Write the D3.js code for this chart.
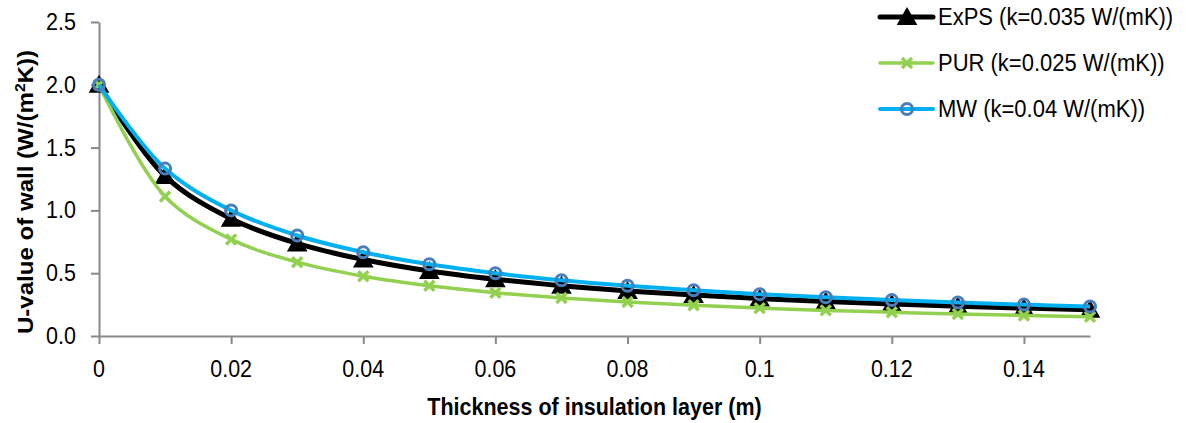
<!DOCTYPE html>
<html>
<head>
<meta charset="utf-8">
<script src="https://cdn.jsdelivr.net/npm/d3@7"></script>
<style>
  html, body { margin: 0; padding: 0; background: #fff; }
  svg { display: block; font-family: "Liberation Sans", Arial, sans-serif; }
</style>
</head>
<body>
<svg id="chart" width="1186" height="423"></svg>
<script>
// ---- data ----
const thickness = [0, 0.01, 0.02, 0.03, 0.04, 0.05, 0.06, 0.07, 0.08, 0.09, 0.10, 0.11, 0.12, 0.13, 0.14, 0.15];
const expsValues = [2.00, 1.273, 0.933, 0.737, 0.609, 0.518, 0.452, 0.400, 0.359, 0.326, 0.298, 0.275, 0.255, 0.237, 0.222, 0.209];
const purValues  = [2.00, 1.111, 0.769, 0.588, 0.476, 0.400, 0.345, 0.303, 0.270, 0.244, 0.222, 0.204, 0.189, 0.175, 0.164, 0.154];
const mwValues   = [2.00, 1.333, 1.000, 0.800, 0.667, 0.571, 0.500, 0.444, 0.400, 0.364, 0.333, 0.308, 0.286, 0.267, 0.250, 0.235];
const seriesNames = ["ExPS (k=0.035 W/(mK))", "PUR (k=0.025 W/(mK))", "MW (k=0.04 W/(mK))"];
const xTickValues = [0, 0.02, 0.04, 0.06, 0.08, 0.10, 0.12, 0.14];
const xTickLabels = ["0", "0.02", "0.04", "0.06", "0.08", "0.1", "0.12", "0.14"];
const yTickValues = [0, 0.5, 1.0, 1.5, 2.0, 2.5];
const yTickLabels = ["0.0", "0.5", "1.0", "1.5", "2.0", "2.5"];
const xTitle = "Thickness of insulation layer (m)";

// ---- layout ----
const svg = d3.select("#chart");
const x = d3.scaleLinear().domain([0, 0.15]).range([99, 1090]);
const y = d3.scaleLinear().domain([0, 2.5]).range([336, 22]);
const axisColor = "#898989";
const VS = 1.12; // vertical stretch of glyphs in the reference

// axes
const gx = svg.append("g").attr("transform", `translate(0,${y(0)})`)
  .call(d3.axisBottom(x).tickValues(xTickValues).tickSize(8).tickSizeOuter(0).tickFormat(""));
const gy = svg.append("g").attr("transform", `translate(${x(0)},0)`)
  .call(d3.axisLeft(y).tickValues(yTickValues).tickSize(8).tickSizeOuter(0).tickFormat(""));
[gx, gy].forEach(g => {
  g.select(".domain").attr("stroke", axisColor).attr("stroke-width", 2);
  g.selectAll(".tick line").attr("stroke", axisColor).attr("stroke-width", 2);
});

// tick labels
xTickValues.forEach((v, i) => {
  svg.append("text")
    .attr("transform", `translate(${x(v)},377) scale(1,${VS})`)
    .attr("text-anchor", "middle")
    .attr("font-size", 21.5)
    .attr("fill", "#000")
    .text(xTickLabels[i]);
});
yTickValues.forEach((v, i) => {
  svg.append("text")
    .attr("transform", `translate(76,${y(v) + 8}) scale(1,${VS})`)
    .attr("text-anchor", "end")
    .attr("font-size", 21.5)
    .attr("fill", "#000")
    .text(yTickLabels[i]);
});

// axis titles
svg.append("text")
  .attr("transform", `translate(${(x(0) + x(0.15)) / 2},415) scale(1,${VS})`)
  .attr("text-anchor", "middle")
  .attr("font-size", 21.5)
  .attr("font-weight", "bold")
  .text(xTitle);

const yt = svg.append("text")
  .attr("transform", `translate(33,${192}) rotate(-90) scale(${VS},1)`)
  .attr("text-anchor", "middle")
  .attr("font-size", 21.5)
  .attr("font-weight", "bold");
yt.append("tspan").text("U-value of wall (W/(m");
yt.append("tspan").attr("baseline-shift", "super").attr("font-size", 14).text("2");
yt.append("tspan").text("K))");

// ---- series ----
const series = [
  { name: seriesNames[0], values: expsValues, color: "#000000", width: 5, marker: "triangle" },
  { name: seriesNames[1], values: purValues,  color: "#92D050", width: 3.5, marker: "cross" },
  { name: seriesNames[2], values: mwValues,   color: "#00B0F0", width: 4, marker: "circle" }
];

const line = d3.line()
  .x((d, i) => x(thickness[i]))
  .y(d => y(d))
  .curve(d3.curveCatmullRom.alpha(0.5));

function drawMarker(g, cx, cy, s) {
  if (s.marker === "triangle") {
    g.append("path")
      .attr("d", d3.symbol().type(d3.symbolTriangle).size(185)())
      .attr("transform", `translate(${cx},${cy + 2})`)
      .attr("fill", "#000");
  } else if (s.marker === "cross") {
    const r = 5;
    g.append("path")
      .attr("d", `M${cx - r},${cy - r}L${cx + r},${cy + r}M${cx - r},${cy + r}L${cx + r},${cy - r}`)
      .attr("stroke", "#92D050").attr("stroke-width", 3.5).attr("fill", "none");
  } else {
    g.append("circle")
      .attr("cx", cx).attr("cy", cy).attr("r", 5.5)
      .attr("fill", "none")
      .attr("stroke", "#4A7EBB").attr("stroke-width", 3);
  }
}

series.forEach(s => {
  const g = svg.append("g");
  g.append("path")
    .datum(s.values)
    .attr("d", line)
    .attr("fill", "none")
    .attr("stroke", s.color)
    .attr("stroke-width", s.width)
    .attr("stroke-linejoin", "round");
  s.values.forEach((v, i) => drawMarker(g, x(thickness[i]), y(v), s));
});

// ---- legend ----
const legendRows = [17, 63, 109];
series.forEach((s, i) => {
  const g = svg.append("g");
  const ly = legendRows[i];
  g.append("line")
    .attr("x1", 880).attr("x2", 933).attr("y1", ly).attr("y2", ly)
    .attr("stroke", s.color).attr("stroke-width", s.width).attr("stroke-linecap", "round");
  drawMarker(g, 907, ly, s);
  g.append("text")
    .attr("transform", `translate(938,${ly + 8}) scale(1,${VS})`)
    .attr("font-size", 22)
    .attr("fill", "#000")
    .text(s.name);
});
</script>
</body>
</html>
